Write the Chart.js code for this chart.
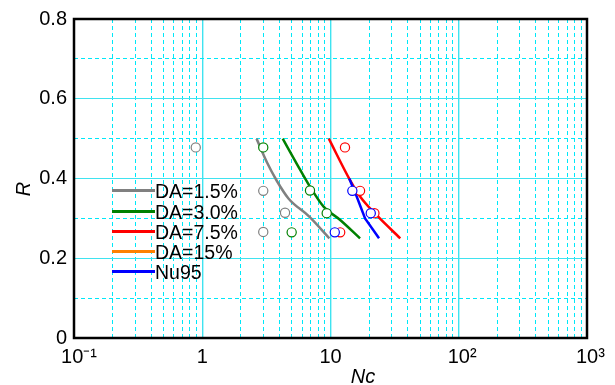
<!DOCTYPE html>
<html>
<head>
<meta charset="utf-8">
<script src="https://cdn.jsdelivr.net/npm/chart.js@4.4.1/dist/chart.umd.min.js"></script>
<style>
html,body{margin:0;padding:0;background:#fff;}
#wrap{position:relative;width:615px;height:385px;font-family:'Liberation Sans',Arial,sans-serif;color:#000;overflow:hidden;}
#c{position:absolute;left:0;top:0;}
.lgline{position:absolute;left:112px;width:43px;height:3px;}
.lgtext{position:absolute;left:155px;height:22px;line-height:22px;font-size:19.5px;white-space:nowrap;}
.axt{position:absolute;font-size:20px;font-style:italic;white-space:nowrap;line-height:22px;}
</style>
</head>
<body>
<div id="wrap">
<canvas id="c" width="615" height="385"></canvas>
<div id="legend"></div>
<div class="axt" id="ytitle" style="left:23px;top:189px;transform:translate(-50%,-50%) rotate(-90deg);">R</div>
<div class="axt" id="xtitle" style="left:363px;top:376px;transform:translate(-50%,-50%);">Nc</div>
</div>
<script>
// ---- tick labels ----
const xTickValues = [0.1, 1, 10, 100, 1000];
const xTickLabels = ['\u200210\u207B\u00B9', '1', '10', '\u200410\u00B2', '\u200410\u00B3'];
const yTickValues = [0, 0.2, 0.4, 0.6, 0.8];
const yTickLabels = ['0', '0.2', '0.4', '0.6', '0.8'];

// ---- series (legend) ----
const seriesNames  = ['DA=1.5%', 'DA=3.0%', 'DA=7.5%', 'DA=15%', 'Nu95'];
const seriesColors = ['#808080', '#008000', '#ff0000', '#ff8000', '#0000ff'];

// ---- curves ----
const da15LineX = [2.65, 3.2, 3.8, 4.7, 6.8, 9.8];
const da15LineY = [0.50, 0.44, 0.395, 0.35, 0.305, 0.25];
const da30LineX = [4.24, 5.5, 6.9, 8.8, 11.9, 17.0];
const da30LineY = [0.50, 0.435, 0.38, 0.33, 0.296, 0.25];
const da75LineX = [9.7, 14.2, 17.0, 22.9, 35.0];
const da75LineY = [0.50, 0.396, 0.355, 0.308, 0.25];
const da150LineX = [];
const da150LineY = [];
const nu95LineX = [14.0, 16.0, 18.6, 23.9];
const nu95LineY = [0.40, 0.355, 0.30, 0.25];

// ---- measured points ----
const da15PtsX = [0.89, 2.99, 4.42, 2.99];
const da15PtsY = [0.478, 0.369, 0.314, 0.266];
const da30PtsX = [2.99, 6.92, 9.34, 4.98];
const da30PtsY = [0.478, 0.370, 0.313, 0.265];
const da75PtsX = [12.97, 17.0, 22.0, 11.9];
const da75PtsY = [0.478, 0.369, 0.313, 0.265];
const nu95PtsX = [14.8, 20.6, 10.8];
const nu95PtsY = [0.369, 0.313, 0.265];

function zip(xs, ys) { return xs.map((x, i) => ({x: x, y: ys[i]})); }

const FONT = "'Liberation Sans', Arial, sans-serif";
const MAJOR_COLOR = '#3fe3f0';
const MINOR_COLOR = '#00e8f8';

// legend (HTML)
const legendRows = [190.7, 211, 231, 251.3, 271.7];
const lg = document.getElementById('legend');
seriesNames.forEach((name, i) => {
  const l = document.createElement('div');
  l.className = 'lgline';
  l.style.top = (legendRows[i] - 1.5) + 'px';
  l.style.background = seriesColors[i];
  lg.appendChild(l);
  const t = document.createElement('div');
  t.className = 'lgtext';
  t.style.top = (legendRows[i] - 10.5) + 'px';
  t.textContent = name;
  lg.appendChild(t);
});

// x grid values (1..9 per decade)
const xGridValues = [];
[0.1, 1, 10, 100].forEach(d => { for (let m = 1; m <= 9; m++) xGridValues.push(Number((d * m).toPrecision(6))); });
xGridValues.push(1000);

function isXMajor(v) { const l = Math.log10(v); return Math.abs(l - Math.round(l)) < 1e-6; }
function isYMajor(v) { return Math.abs(v * 5 - Math.round(v * 5)) < 1e-6; }

function lineDS(label, xs, ys, color, smooth, order) {
  const ds = { label: label, data: zip(xs, ys), showLine: true, borderColor: color, backgroundColor: color,
           borderWidth: 2.5, pointRadius: 0, pointHoverRadius: 0, tension: 0, order: order };
  if (smooth) { ds.cubicInterpolationMode = 'monotone'; ds.tension = 0.4; }
  return ds;
}
function ptsDS(label, xs, ys, color, order) {
  return { label: label, data: zip(xs, ys), showLine: false, borderColor: color, backgroundColor: '#ffffff',
           borderWidth: 1.2, pointRadius: 4.6, pointStyle: 'circle', order: order };
}

const framePlugin = {
  id: 'frame',
  afterDraw(chart) {
    const a = chart.chartArea, c = chart.ctx;
    c.save();
    c.strokeStyle = '#000';
    c.lineWidth = 2.5;
    c.strokeRect(a.left, a.top, a.right - a.left, a.bottom - a.top);
    c.restore();
  }
};

new Chart(document.getElementById('c'), {
  type: 'scatter',
  data: {
    datasets: [
      ptsDS(seriesNames[4] + ' data', nu95PtsX, nu95PtsY, seriesColors[4], 1),
      ptsDS(seriesNames[2] + ' data', da75PtsX, da75PtsY, seriesColors[2], 2),
      ptsDS(seriesNames[1] + ' data', da30PtsX, da30PtsY, seriesColors[1], 3),
      ptsDS(seriesNames[0] + ' data', da15PtsX, da15PtsY, seriesColors[0], 4),
      lineDS(seriesNames[4], nu95LineX, nu95LineY, seriesColors[4], false, 5),
      lineDS(seriesNames[3], da150LineX, da150LineY, seriesColors[3], true, 6),
      lineDS(seriesNames[2], da75LineX, da75LineY, seriesColors[2], true, 7),
      lineDS(seriesNames[1], da30LineX, da30LineY, seriesColors[1], true, 8),
      lineDS(seriesNames[0], da15LineX, da15LineY, seriesColors[0], true, 9)
    ]
  },
  options: {
    responsive: false,
    animation: false,
    devicePixelRatio: 1,
    layout: { padding: { left: 0, top: 19, right: 28, bottom: 0 } },
    plugins: { legend: { display: false }, tooltip: { enabled: false } },
    events: [],
    scales: {
      x: {
        type: 'logarithmic',
        min: 0.1, max: 1000,
        afterBuildTicks: s => { s.ticks = xGridValues.map(v => ({ value: v })); },
        afterFit: s => { s.height = 47; },
        ticks: {
          autoSkip: false, maxRotation: 0, minRotation: 0, padding: 7,
          color: '#000', font: { family: FONT, size: 20 },
          callback: (v) => { const i = xTickValues.findIndex(t => Math.abs(t - v) / t < 1e-6); return i >= 0 ? xTickLabels[i] : ''; }
        },
        grid: {
          drawTicks: false,
          color: ctx => (ctx.tick && isXMajor(ctx.tick.value)) ? MAJOR_COLOR : MINOR_COLOR,
          lineWidth: ctx => (ctx.tick && isXMajor(ctx.tick.value)) ? 1.4 : 1
        },
        border: { display: false, dash: ctx => (ctx.tick && isXMajor(ctx.tick.value)) ? [] : [4, 3] }
      },
      y: {
        type: 'linear',
        min: 0, max: 0.8,
        afterFit: s => { s.width = 74; },
        ticks: {
          stepSize: 0.1, autoSkip: false, padding: 7,
          color: '#000', font: { family: FONT, size: 20 },
          callback: (v) => { const i = yTickValues.findIndex(t => Math.abs(t - v) < 1e-6); return i >= 0 ? yTickLabels[i] : ''; }
        },
        grid: {
          drawTicks: false,
          color: ctx => (ctx.tick && isYMajor(ctx.tick.value)) ? MAJOR_COLOR : MINOR_COLOR,
          lineWidth: 1
        },
        border: { display: false, dash: ctx => (ctx.tick && isYMajor(ctx.tick.value)) ? [] : [4, 3] }
      }
    }
  },
  plugins: [framePlugin]
});
</script>
</body>
</html>
